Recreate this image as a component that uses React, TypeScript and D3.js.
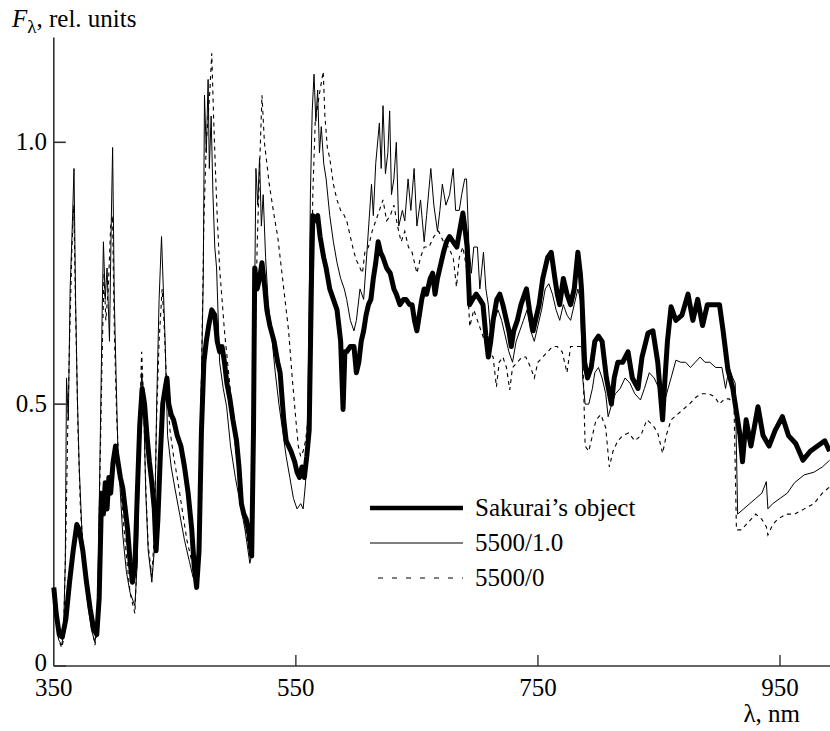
import React from "react";
import * as d3 from "d3";

// ---- Data (wavelength nm, relative flux) ----
const sakuraiWl = [350,352,354.5,357,360,363,366,369,371,374,377,380,383,385.5,387.5,389.5,391,392.5,394,395.5,397,399,401,403,405,407,409,411,413,415,417,419,421,423,425,427,429,431,433,434.5,436,438,440,442,443.5,445,447,449,452,455,458,461,464,466,468,470,472,474,476,478,480.5,483,485,487,489,491,493,495.5,498,501,503,505,507,509,511.5,513.5,515,516,518,520,522,524,526,528.5,532,535,537,540,542,546,549,551,553,555,557,559,561,563,564,566,568,570,573,575,578,581,584,587,589,590.5,592,595,598,600,602,604,606,608,610,612,614,616,618,620,622,625,628,631,633,636,639,641,644,646,648,650,652,654,656,658,661,663,665,667,669,672,674.5,677,680,683,686,688,690,691.5,693.5,696,699,702,704.6,707,709,711,713,716,718.5,721,724,726,728,730,733,736,740.5,743,746,749,751,754,758,761,764,766,768,771,774,777,780,783,785,786,788.6,791,794,797,800,803,806.6,810.7,813,816,820,824.4,828,832.7,836,841,845,849,853,855,857,860,864,869,874,878,882,886,890,895,900,903,907,911,915,917,919,922,926,931.8,936,941,946,952,957,963,969,975,981,987,991];
const sakuraiFlux = [0.15,0.10,0.06,0.055,0.09,0.16,0.22,0.27,0.26,0.22,0.16,0.11,0.07,0.06,0.13,0.33,0.29,0.35,0.30,0.36,0.33,0.39,0.42,0.39,0.36,0.34,0.30,0.26,0.20,0.16,0.19,0.33,0.46,0.53,0.50,0.44,0.39,0.35,0.30,0.22,0.28,0.40,0.50,0.53,0.55,0.50,0.48,0.47,0.44,0.42,0.38,0.33,0.26,0.19,0.15,0.22,0.45,0.58,0.62,0.65,0.68,0.67,0.62,0.60,0.61,0.58,0.54,0.51,0.47,0.43,0.38,0.31,0.29,0.28,0.25,0.21,0.45,0.76,0.72,0.74,0.77,0.73,0.68,0.65,0.62,0.58,0.56,0.47,0.43,0.41,0.39,0.37,0.36,0.38,0.36,0.40,0.45,0.75,0.86,0.85,0.86,0.82,0.78,0.76,0.72,0.70,0.68,0.62,0.49,0.60,0.60,0.61,0.61,0.56,0.58,0.62,0.64,0.67,0.69,0.70,0.74,0.77,0.81,0.79,0.78,0.76,0.75,0.72,0.71,0.69,0.70,0.70,0.69,0.69,0.66,0.64,0.67,0.70,0.72,0.71,0.74,0.75,0.71,0.74,0.76,0.79,0.81,0.82,0.81,0.80,0.84,0.865,0.83,0.80,0.69,0.70,0.71,0.70,0.69,0.63,0.59,0.62,0.66,0.70,0.71,0.69,0.66,0.64,0.61,0.64,0.66,0.69,0.72,0.68,0.64,0.67,0.69,0.74,0.78,0.79,0.74,0.71,0.69,0.74,0.71,0.69,0.72,0.79,0.75,0.72,0.58,0.55,0.57,0.62,0.63,0.62,0.55,0.50,0.55,0.58,0.58,0.60,0.55,0.53,0.59,0.636,0.64,0.58,0.47,0.55,0.62,0.686,0.66,0.67,0.71,0.66,0.70,0.65,0.69,0.69,0.69,0.64,0.565,0.53,0.47,0.44,0.39,0.47,0.42,0.495,0.44,0.42,0.45,0.476,0.44,0.425,0.393,0.41,0.42,0.43,0.41];

const model10Wl = [350,352,354,356.5,358,359.5,360.5,362,363.5,365,366.7,368,369.5,371,373,375,378,381,384,386,387.5,388.5,390,391,392.5,394,396,397.5,398.6,400,401.5,403,405,407,410,413,417,419,421,422.6,424,426,428,431,433,435,437,439,440.5,442,444,447,450,454,458,462,465,468,470,472,473.5,474.5,476,477.5,478.5,480,481.5,483,484.5,487,490,492.8,496,500,504,508,512,514,515.5,517,518.5,520,521.5,523,525,527,530,533,536,539,542,545,548,551,554,556,558,560,562,563.5,565,566.5,568,569.5,571,573,575,578,581,584,587,590,592,595,598,600,603,606,609,612.5,614,616,619,620.5,622,624,626,627.5,629,631,633,635,638,640,642.7,645,647.7,650,653,656,658,661.5,664,667,669,671,674,677,680,682,685,687,689.5,691,693,695,697,700,702,705,707,709,711,714,717,720,723,726,729,732,735,738,741,744,747,750,753,756,759,762,765,768,771,774,777,780,783,785,787,789,792,795,797,800,803,806,808,811,814,818,822,826,830,834.7,838,842,846,850,855.6,860,864,868,872,876,880,884,888,892,897,902,905,908,911,913,915,920,925,930,935,938.7,940,944,950,956,962,970,978,985,991];
const model10Flux = [0.15,0.09,0.05,0.04,0.06,0.20,0.55,0.47,0.72,0.82,0.95,0.70,0.51,0.38,0.27,0.19,0.12,0.07,0.045,0.08,0.30,0.45,0.68,0.81,0.70,0.76,0.62,0.85,0.99,0.70,0.55,0.41,0.33,0.25,0.18,0.14,0.115,0.20,0.42,0.56,0.52,0.33,0.22,0.16,0.22,0.50,0.70,0.82,0.72,0.62,0.44,0.38,0.34,0.29,0.24,0.20,0.17,0.158,0.30,0.55,0.74,1.09,0.98,1.12,0.95,1.05,0.90,0.80,0.76,0.58,0.53,0.495,0.42,0.36,0.31,0.26,0.196,0.22,0.60,0.95,0.88,0.97,0.84,0.90,0.78,0.70,0.63,0.56,0.50,0.45,0.40,0.36,0.32,0.30,0.31,0.30,0.35,0.50,0.90,1.06,1.13,1.04,1.10,0.98,1.03,0.96,0.93,0.86,0.81,0.77,0.74,0.72,0.70,0.66,0.64,0.66,0.72,0.70,0.80,0.92,0.86,0.96,1.037,0.95,1.07,0.94,0.98,1.06,0.90,0.93,1.00,0.84,0.87,0.85,0.93,0.87,0.95,0.84,0.89,0.81,0.86,0.95,0.88,0.83,0.87,0.92,0.88,0.90,0.95,0.87,0.87,0.90,0.93,0.93,0.80,0.75,0.80,0.80,0.72,0.79,0.72,0.69,0.63,0.66,0.68,0.66,0.63,0.60,0.58,0.62,0.64,0.66,0.68,0.64,0.62,0.65,0.68,0.72,0.73,0.71,0.68,0.66,0.69,0.67,0.66,0.69,0.72,0.70,0.55,0.50,0.50,0.53,0.56,0.57,0.55,0.52,0.476,0.50,0.52,0.53,0.55,0.54,0.52,0.508,0.53,0.56,0.55,0.53,0.514,0.55,0.584,0.58,0.58,0.57,0.58,0.59,0.58,0.58,0.57,0.57,0.53,0.57,0.55,0.54,0.29,0.30,0.31,0.32,0.33,0.352,0.30,0.31,0.32,0.33,0.35,0.365,0.37,0.38,0.393];

const model0Wl = [350,352,354,356.5,358,360,361.5,363,365,366.5,368,370,372,375,378,381,384,386,388,390,391.5,393,395,397,398.5,400,402,404,407,410,413,417,419,421,422.6,424,426,428,431,433,435,437,439.5,441,443,446,449,452,456,460,464,468,470,472,474,476,477.5,479,480.5,482,483.5,485,487,489,491,494,497,500,504,508,512,514,516,518,520,522,524,526,528,530,532,535,538,541,544,547,550,552,554,556,558,560,562,564,566,568,570,572.6,574,576,578,581,584,587,589,592,595,598,600,603,605,607,610,613,616,619,622,625,628,631,634,637,640,643,646,650,653,656,660,664,668,672,676,680,682.7,685,688,691,693.7,697,700,703,706,709,713,715.7,718,721,724,726.7,729,733,737,740,744,747,750,754,758,762,766,770,774,777,781,785,787,789,792,795,798,802,806,809,812,816,820,825,830,835,840,845,849,853,856,860,865,870,875,881,886,891,896,900,904,908,912,914,918,922,926,930,935,938.7,940,944,948,955,962,970,978,985,991];
const model0Flux = [0.15,0.09,0.05,0.035,0.05,0.25,0.45,0.62,0.80,0.88,0.68,0.45,0.30,0.20,0.13,0.08,0.04,0.07,0.35,0.60,0.75,0.66,0.72,0.84,0.86,0.64,0.47,0.38,0.29,0.21,0.14,0.10,0.22,0.48,0.60,0.52,0.34,0.23,0.17,0.25,0.48,0.62,0.72,0.66,0.55,0.45,0.40,0.36,0.30,0.24,0.20,0.17,0.28,0.55,0.85,1.00,1.05,1.10,1.17,1.05,0.95,0.86,0.76,0.70,0.64,0.57,0.50,0.42,0.34,0.27,0.21,0.25,0.55,0.80,0.95,1.09,1.00,0.96,0.92,0.89,0.86,0.82,0.76,0.70,0.64,0.55,0.47,0.42,0.40,0.41,0.43,0.47,0.60,0.90,1.04,1.07,1.10,1.135,1.05,0.99,0.97,0.92,0.89,0.87,0.865,0.85,0.82,0.79,0.775,0.76,0.75,0.79,0.80,0.83,0.85,0.87,0.89,0.85,0.86,0.88,0.84,0.81,0.83,0.80,0.79,0.75,0.78,0.80,0.80,0.82,0.83,0.81,0.80,0.78,0.724,0.78,0.80,0.76,0.648,0.68,0.66,0.64,0.62,0.60,0.59,0.533,0.58,0.59,0.57,0.527,0.57,0.58,0.59,0.59,0.57,0.55,0.58,0.59,0.60,0.61,0.61,0.60,0.56,0.61,0.61,0.61,0.60,0.42,0.41,0.44,0.47,0.48,0.455,0.38,0.41,0.43,0.44,0.445,0.43,0.44,0.47,0.46,0.445,0.406,0.44,0.47,0.48,0.49,0.50,0.514,0.52,0.52,0.514,0.50,0.51,0.51,0.50,0.26,0.26,0.27,0.28,0.29,0.28,0.266,0.25,0.27,0.28,0.29,0.29,0.30,0.31,0.33,0.342];

const xTicks = [550, 750, 950];
const xTickLabels = ["350", "550", "750", "950"];
const yTicks = [0.5, 1.0];
const yTickLabels = ["0", "0.5", "1.0"];
const legendLabels = ["Sakurai\u2019s object", "5500/1.0", "5500/0"];

const FONT = "'Liberation Serif', Tinos, 'Times New Roman', 'DejaVu Serif', serif";

export default function App() {
  const W = 830, H = 731;
  const x = d3.scaleLinear().domain([350, 950]).range([53.8, 780]);
  const y = d3.scaleLinear().domain([0, 1]).range([666, 142.3]);
  const yTop = y(1.2);

  const mk = (wl: number[], fl: number[]) =>
    d3.line<number>().x((_, i) => x(wl[i])).y((d) => y(d))(fl) || "";

  const pSak = mk(sakuraiWl, sakuraiFlux);
  const p10 = mk(model10Wl, model10Flux);
  const p0 = mk(model0Wl, model0Flux);

  const axisColor = "#333";
  const fs = 25;
  const txt = { fontFamily: FONT, fontSize: fs, fill: "#000" } as React.CSSProperties;

  return (
    <svg width={W} height={H} style={{ position: "absolute", left: 0, top: 0, background: "#fff" }}>
      <rect x={0} y={0} width={W} height={H} fill="#fff" />
      {/* axes */}
      <line x1={x(350)} x2={W} y1={y(0)} y2={y(0)} stroke={axisColor} strokeWidth={1.6} />
      <line x1={x(350)} x2={x(350)} y1={yTop} y2={y(0)} stroke={axisColor} strokeWidth={1.6} />
      {xTicks.map((t) => (
        <line key={"xt" + t} x1={x(t)} x2={x(t)} y1={y(0)} y2={y(0) - 11} stroke={axisColor} strokeWidth={1.4} />
      ))}
      {[0, ...yTicks].map((t) => (
        <line key={"yt" + t} x1={x(350)} x2={x(350) + 12} y1={y(t)} y2={y(t)} stroke={axisColor} strokeWidth={1.6} />
      ))}
      {/* tick labels */}
      {[350, ...xTicks].map((t, i) => (
        <text key={"xl" + t} x={x(t)} y={696} textAnchor="middle" style={txt}>
          {xTickLabels[i]}
        </text>
      ))}
      {[0, ...yTicks].map((t, i) => (
        <text key={"yl" + t} x={47} y={t === 0 ? y(t) + 5 : y(t) + 8} textAnchor="end" style={txt}>
          {yTickLabels[i]}
        </text>
      ))}
      {/* axis titles */}
      <text x={12} y={27} style={txt}>
        <tspan fontStyle="italic">F</tspan>
        <tspan style={{ fontSize: 19 }} dy={6}>λ</tspan>
        <tspan dy={-6}>, rel. units</tspan>
      </text>
      <text x={800} y={722} textAnchor="end" style={txt}>
        λ, nm
      </text>
      {/* series */}
      <path d={p0} fill="none" stroke="#000" strokeWidth={1.1} strokeDasharray="4,4" />
      <path d={p10} fill="none" stroke="#000" strokeWidth={1} />
      <path d={pSak} fill="none" stroke="#000" strokeWidth={5} strokeLinejoin="round" />
      {/* legend */}
      <line x1={370} x2={463} y1={508} y2={508} stroke="#000" strokeWidth={4.5} />
      <line x1={370} x2={463} y1={543} y2={543} stroke="#000" strokeWidth={1} />
      <line x1={378} x2={463} y1={578} y2={578} stroke="#000" strokeWidth={1.1} strokeDasharray="5,9" />
      {legendLabels.map((l, i) => (
        <text key={l} x={475} y={508 + 35 * i + 8} style={txt}>
          {l}
        </text>
      ))}
    </svg>
  );
}
